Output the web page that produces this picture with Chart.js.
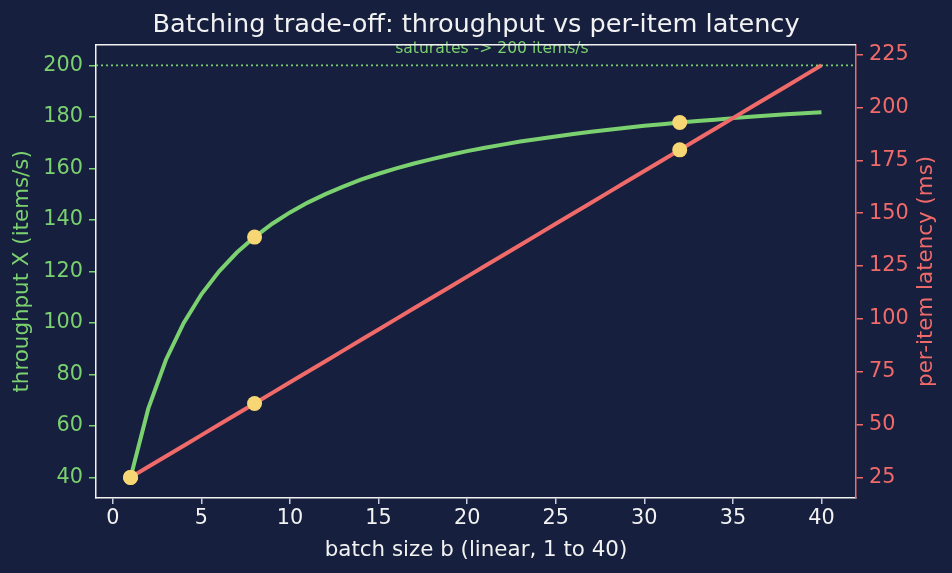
<!DOCTYPE html>
<html>
<head>
<meta charset="utf-8">
<script src="https://cdn.jsdelivr.net/npm/chart.js@4.4.1/dist/chart.umd.min.js"></script>
<style>
  html, body { margin: 0; padding: 0; background: #161f3d; }
  #wrap { width: 952px; height: 573px; }
</style>
</head>
<body>
<div id="wrap"><canvas id="batch_chart" width="952" height="573"></canvas></div>
<script>
// batch sizes b = 1..40
const batchSizes = [1,2,3,4,5,6,7,8,9,10,11,12,13,14,15,16,17,18,19,20,
                    21,22,23,24,25,26,27,28,29,30,31,32,33,34,35,36,37,38,39,40];
// throughput X (items/s)
const throughput = [40,66.7,85.7,100,111.1,120,127.3,133.3,138.5,142.9,
                    146.7,150,152.9,155.6,157.9,160,161.9,163.6,165.2,166.7,
                    168,169.2,170.4,171.4,172.4,173.3,174.2,175,175.8,176.5,
                    177.1,177.8,178.4,178.9,179.5,180,180.5,181,181.4,181.8];
// per-item latency (ms), red line
const latency = [25,30,35,40,45,50,55,60,65,70,75,80,85,90,95,100,105,110,115,120,
                 125,130,135,140,145,150,155,160,165,170,175,180,185,190,195,200,205,210,215,220];
// highlighted batch sizes
const markedBatches = [1, 8, 32];
const markedThroughput = [40, 133.3, 177.8];
const markedLatency = [25, 60, 180];
const saturation = 200;
const saturationLabel = 'saturates -> 200 items/s';

const batchTicks = [0,5,10,15,20,25,30,35,40];
const throughputTicks = [40,60,80,100,120,140,160,180,200];
const latencyTicks = [25,50,75,100,125,150,175,200,225];

const GREEN = '#7bd06f';
const RED = '#f06a6a';
const YELLOW = '#f7d774';
const WHITE = '#f2f2f2';
const FONT = "'DejaVu Sans', sans-serif";

function pts(xs, ys) {
    return xs.map(function (x, i) { return {x: x, y: ys[i]}; });
}

const extras = {
    id: 'extras',
    beforeDraw: function (chart) {
        const c = chart.ctx;
        c.save();
        c.fillStyle = '#161f3d';
        c.fillRect(0, 0, chart.width, chart.height);
        c.restore();
    },
    afterDatasetsDraw: function (chart) {
        const c = chart.ctx;
        const a = chart.chartArea;
        const x = chart.scales.x, y = chart.scales.y;
        c.save();
        // saturation line
        const ys = y.getPixelForValue(saturation);
        c.strokeStyle = GREEN;
        c.lineWidth = 1.8;
        c.setLineDash([2, 3]);
        c.beginPath();
        c.moveTo(a.left, ys);
        c.lineTo(a.right, ys);
        c.stroke();
        c.setLineDash([]);
        c.fillStyle = GREEN;
        c.font = '15.6px ' + FONT;
        c.textAlign = 'center';
        c.textBaseline = 'alphabetic';
        c.fillText(saturationLabel, x.getPixelForValue(21.4), y.getPixelForValue(204.7));
        // top spine
        c.strokeStyle = WHITE;
        c.lineWidth = 1.5;
        c.beginPath();
        c.moveTo(a.left, a.top);
        c.lineTo(a.right, a.top);
        c.stroke();
        // right axis title, reading bottom to top
        c.translate(926, (a.top + a.bottom) / 2);
        c.rotate(-Math.PI / 2);
        c.fillStyle = RED;
        c.font = '21.4px ' + FONT;
        c.textBaseline = 'middle';
        c.fillText('per-item latency (ms)', 0, 0);
        c.restore();
    }
};

new Chart(document.getElementById('batch_chart'), {
    type: 'line',
    data: {
        datasets: [
            {
                data: pts(markedBatches, markedThroughput),
                yAxisID: 'y', showLine: false, order: 0,
                pointRadius: 7.5, pointBackgroundColor: YELLOW, pointBorderWidth: 0
            },
            {
                data: pts(markedBatches, markedLatency),
                yAxisID: 'y1', showLine: false, order: 0,
                pointRadius: 7.5, pointBackgroundColor: YELLOW, pointBorderWidth: 0
            },
            {
                data: pts(batchSizes, latency),
                yAxisID: 'y1', order: 1,
                borderColor: RED, borderWidth: 4, pointRadius: 0, tension: 0
            },
            {
                data: pts(batchSizes, throughput),
                yAxisID: 'y', order: 2,
                borderColor: GREEN, borderWidth: 4, pointRadius: 0, tension: 0
            }
        ]
    },
    options: {
        responsive: false,
        animation: false,
        devicePixelRatio: 1,
        layout: { padding: { top: 10, left: 0, right: 0, bottom: 0 } },
        plugins: {
            legend: { display: false },
            tooltip: { enabled: false },
            title: {
                display: true,
                text: 'Batching trade-off: throughput vs per-item latency',
                color: WHITE,
                font: { family: FONT, size: 25.6, weight: 'normal' },
                padding: { top: 0, bottom: 4 }
            }
        },
        scales: {
            x: {
                type: 'linear', min: -0.95, max: 41.95,
                afterBuildTicks: function (s) { s.ticks = batchTicks.map(function (v) { return {value: v}; }); },
                afterFit: function (s) { s.height = 75; },
                grid: { drawOnChartArea: false, drawTicks: true, tickLength: 6, color: '#c8cde0', lineWidth: 1.5 },
                border: { display: true, color: WHITE, width: 1.5 },
                ticks: { color: WHITE, font: { family: FONT, size: 20.8 }, padding: 2, maxRotation: 0 },
                title: {
                    display: true, text: 'batch size b (linear, 1 to 40)', color: WHITE,
                    font: { family: FONT, size: 21.4 }, padding: { top: 0, bottom: 10 }
                }
            },
            y: {
                type: 'linear', position: 'left', min: 32, max: 208,
                afterBuildTicks: function (s) { s.ticks = throughputTicks.map(function (v) { return {value: v}; }); },
                afterFit: function (s) { s.width = 96; },
                grid: { drawOnChartArea: false, drawTicks: true, tickLength: 7, color: GREEN, lineWidth: 1.5 },
                border: { display: true, color: WHITE, width: 1.5 },
                ticks: { color: GREEN, font: { family: FONT, size: 20.8 }, padding: 6 },
                title: {
                    display: true, text: 'throughput X (items/s)', color: GREEN,
                    font: { family: FONT, size: 21.4 }, padding: { top: 10, bottom: 0 }
                }
            },
            y1: {
                type: 'linear', position: 'right', min: 15.25, max: 229.75,
                afterBuildTicks: function (s) { s.ticks = latencyTicks.map(function (v) { return {value: v}; }); },
                afterFit: function (s) { s.width = 96; },
                grid: { drawOnChartArea: false, drawTicks: true, tickLength: 7, color: RED, lineWidth: 1.5 },
                border: { display: true, color: RED, width: 1.5 },
                ticks: { color: RED, font: { family: FONT, size: 20.8 }, padding: 6 }
            }
        }
    },
    plugins: [extras]
});
</script>
</body>
</html>
